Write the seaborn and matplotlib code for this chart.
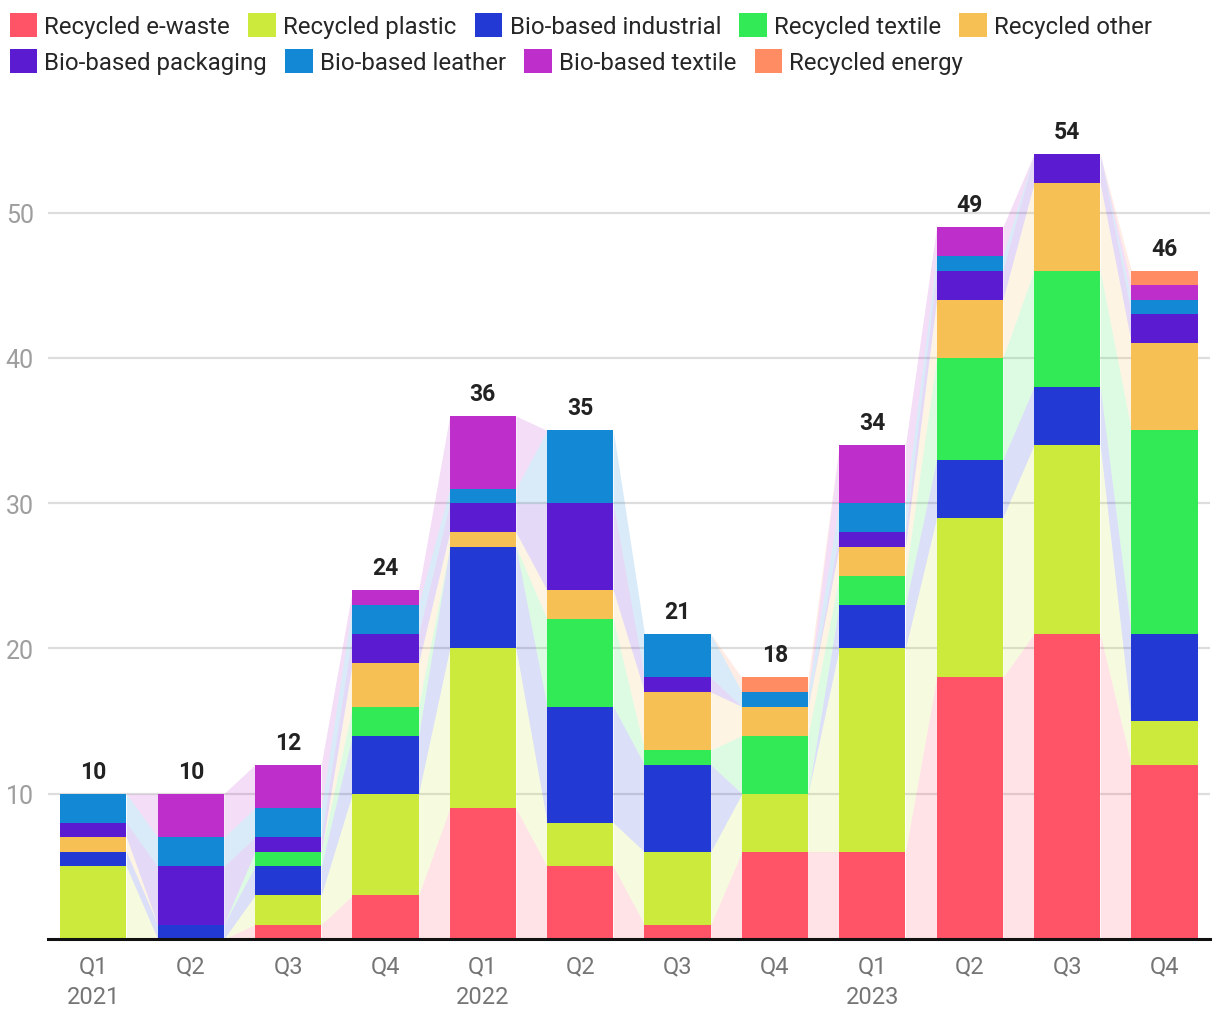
import matplotlib
matplotlib.use("Agg")
import matplotlib.pyplot as plt
import seaborn as sns
import pandas as pd
import numpy as np
from matplotlib.patches import Patch

# ---------------- data ----------------
quarter_ids = ["2021Q1", "2021Q2", "2021Q3", "2021Q4",
               "2022Q1", "2022Q2", "2022Q3", "2022Q4",
               "2023Q1", "2023Q2", "2023Q3", "2023Q4"]
tick_labels = ["Q1\n2021", "Q2", "Q3", "Q4",
               "Q1\n2022", "Q2", "Q3", "Q4",
               "Q1\n2023", "Q2", "Q3", "Q4"]

series_names = ["Recycled e-waste", "Recycled plastic", "Bio-based industrial",
                "Recycled textile", "Recycled other", "Bio-based packaging",
                "Bio-based leather", "Bio-based textile", "Recycled energy"]

recycled_ewaste      = [0, 0, 1, 3, 9, 5, 1, 6, 6, 18, 21, 12]
recycled_plastic     = [5, 0, 2, 7, 11, 3, 5, 4, 14, 11, 13, 3]
biobased_industrial  = [1, 1, 2, 4, 7, 8, 6, 0, 3, 4, 4, 6]
recycled_textile     = [0, 0, 1, 2, 0, 6, 1, 4, 2, 7, 8, 14]
recycled_other       = [1, 0, 0, 3, 1, 2, 4, 2, 2, 4, 6, 6]
biobased_packaging   = [1, 4, 1, 2, 2, 6, 1, 0, 1, 2, 2, 2]
biobased_leather     = [2, 2, 2, 2, 1, 5, 3, 1, 2, 1, 0, 1]
biobased_textile     = [0, 3, 3, 1, 5, 0, 0, 0, 4, 2, 0, 1]
recycled_energy      = [0, 0, 0, 0, 0, 0, 0, 1, 0, 0, 0, 1]

series_values = [recycled_ewaste, recycled_plastic, biobased_industrial,
                 recycled_textile, recycled_other, biobased_packaging,
                 biobased_leather, biobased_textile, recycled_energy]

colors = ["#FF5368", "#CBEA3C", "#2339D4", "#31EA55", "#F6C055",
          "#5A1BD1", "#1388D4", "#BE2ECA", "#FF8C62"]

# ---------------- style ----------------
sns.set_theme(style="white")
plt.rcParams["font.family"] = ["Roboto", "DejaVu Sans"]

fig = plt.figure(figsize=(12.2, 10.2), dpi=100)
ax = fig.add_axes([0.039, 0.0784, 0.953, 0.812])

n = len(quarter_ids)
width = 0.68
vals = np.array(series_values, dtype=float)
bottoms = np.vstack([np.zeros(n), np.cumsum(vals, axis=0)[:-1]])
tops = bottoms + vals
totals = vals.sum(axis=0)

# bars via seaborn
for i, name in enumerate(series_names):
    df = pd.DataFrame({"quarter": quarter_ids, "value": vals[i]})
    sns.barplot(data=df, x="quarter", y="value", order=quarter_ids,
                color=colors[i], saturation=1, width=width, errorbar=None,
                bottom=bottoms[i], linewidth=0, zorder=3, ax=ax)

# connecting translucent bands
for i in range(len(series_names)):
    for j in range(n - 1):
        xs = [j + width / 2, j + 1 - width / 2]
        ax.fill_between(xs, [bottoms[i, j], bottoms[i, j + 1]],
                        [tops[i, j], tops[i, j + 1]],
                        color=colors[i], alpha=0.16, linewidth=0, zorder=1)

# totals
for j in range(n):
    ax.annotate(f"{int(totals[j])}", xy=(j, totals[j]), xytext=(0, 8),
                textcoords="offset points", ha="center", va="bottom",
                fontsize=16.5, fontweight="bold", color="#222222")

ax.set_xlim(-0.47, n - 1 + 0.47)
ax.set_ylim(0, 57)
ax.set_yticks([10, 20, 30, 40, 50])
ax.yaxis.grid(True, color="#dddddd", linewidth=1.6, zorder=0)
ax.set_axisbelow(True)
ax.set_xticks(range(n))
ax.set_xticklabels(tick_labels, linespacing=1.4)
ax.tick_params(axis="x", length=0, pad=11, labelsize=17, labelcolor="#757575")
ax.tick_params(axis="y", length=0, pad=10, labelsize=18, labelcolor="#9e9e9e")
ax.set_xlabel("")
ax.set_ylabel("")
for s in ["top", "right", "left"]:
    ax.spines[s].set_visible(False)
ax.spines["bottom"].set_color("#111111")
ax.spines["bottom"].set_linewidth(2.2)
ax.spines["bottom"].set_zorder(5)

# legend in two flowing rows
handles = [Patch(facecolor=c, edgecolor="none", label=l) for c, l in zip(colors, series_names)]
leg_kw = dict(loc="upper left", frameon=False, fontsize=17.25, handlelength=1.15,
              handleheight=1.15, handletextpad=0.3, columnspacing=0.76, borderpad=0,
              borderaxespad=0)
leg1 = fig.legend(handles=handles[:5], ncol=5, bbox_to_anchor=(0.008, 0.986), **leg_kw)
leg2 = fig.legend(handles=handles[5:], ncol=4, bbox_to_anchor=(0.008, 0.951), **leg_kw)

fig.savefig("out.png", dpi=100)
